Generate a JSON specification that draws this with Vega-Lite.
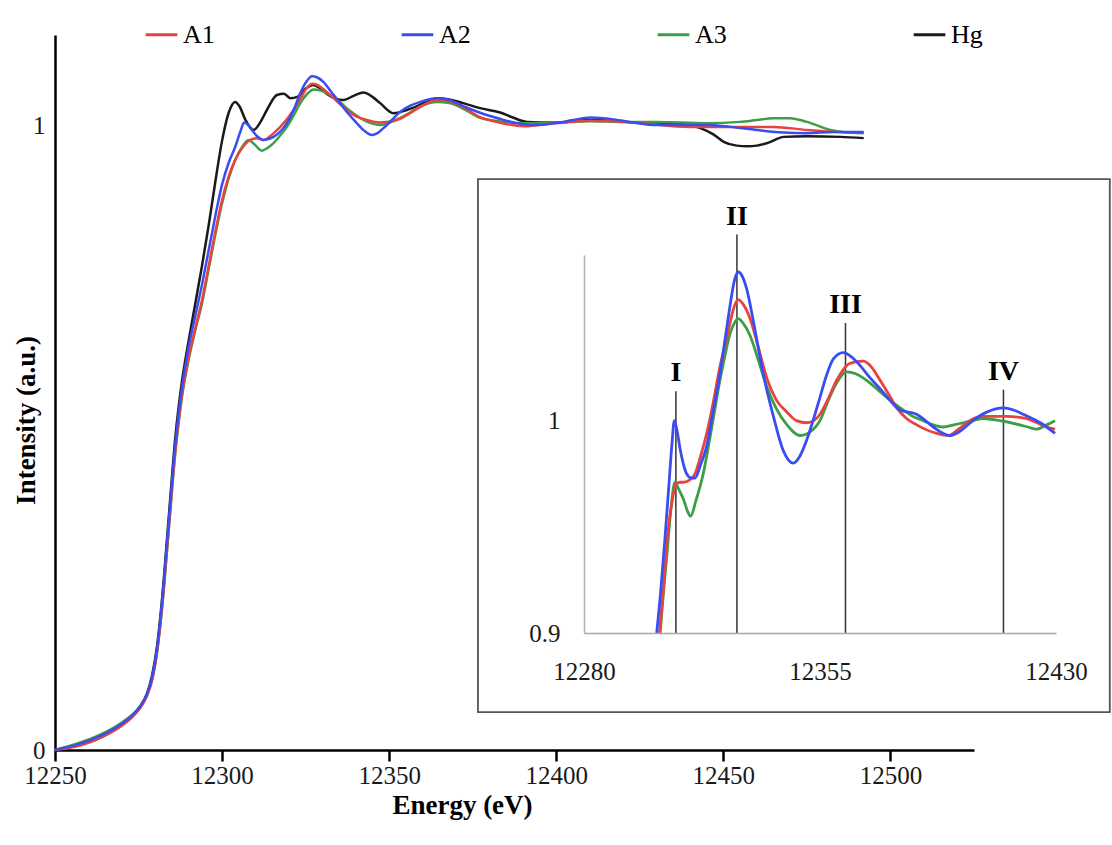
{
  "$schema": "https://vega.github.io/schema/vega-lite/v6.json",
  "width": 919,
  "height": 715,
  "autosize": {"type": "none"},
  "padding": {"left": 55, "top": 35, "right": 138, "bottom": 95},
  "background": "white",
  "config": {
    "view": {"stroke": null},
    "font": "Liberation Serif",
    "axis": {"grid": false, "labelFont": "Liberation Serif", "titleFont": "Liberation Serif", "labelColor": "#1a1a1a", "titleColor": "#000"}
  },
  "datasets": {
    "main": [
      {"s":"Hg","E":12250,"v":0.000},{"s":"Hg","E":12254,"v":0.004},{"s":"Hg","E":12258,"v":0.009},{"s":"Hg","E":12262,"v":0.016},{"s":"Hg","E":12266,"v":0.026},{"s":"Hg","E":12270,"v":0.040},{"s":"Hg","E":12273,"v":0.054},{"s":"Hg","E":12275.5,"v":0.070},{"s":"Hg","E":12277.5,"v":0.090},{"s":"Hg","E":12279,"v":0.118},{"s":"Hg","E":12280.5,"v":0.165},{"s":"Hg","E":12282,"v":0.240},{"s":"Hg","E":12284,"v":0.370},{"s":"Hg","E":12286,"v":0.500},{"s":"Hg","E":12288,"v":0.590},{"s":"Hg","E":12290,"v":0.655},{"s":"Hg","E":12292,"v":0.715},{"s":"Hg","E":12294,"v":0.775},{"s":"Hg","E":12296,"v":0.840},{"s":"Hg","E":12298,"v":0.910},{"s":"Hg","E":12300,"v":0.975},{"s":"Hg","E":12302,"v":1.020},{"s":"Hg","E":12303.9,"v":1.037},{"s":"Hg","E":12305.2,"v":1.030},{"s":"Hg","E":12307,"v":1.008},{"s":"Hg","E":12309.4,"v":0.992},{"s":"Hg","E":12311.5,"v":1.005},{"s":"Hg","E":12313.4,"v":1.024},{"s":"Hg","E":12316.4,"v":1.048},{"s":"Hg","E":12318.5,"v":1.050},{"s":"Hg","E":12320.4,"v":1.043},{"s":"Hg","E":12322.5,"v":1.045},{"s":"Hg","E":12325,"v":1.058},{"s":"Hg","E":12327.2,"v":1.064},{"s":"Hg","E":12329,"v":1.060},{"s":"Hg","E":12331.3,"v":1.050},{"s":"Hg","E":12334,"v":1.042},{"s":"Hg","E":12336.3,"v":1.040},{"s":"Hg","E":12339.5,"v":1.047},{"s":"Hg","E":12342.3,"v":1.052},{"s":"Hg","E":12345,"v":1.045},{"s":"Hg","E":12347.3,"v":1.035},{"s":"Hg","E":12351.3,"v":1.019},{"s":"Hg","E":12355.3,"v":1.024},{"s":"Hg","E":12361.3,"v":1.037},{"s":"Hg","E":12364.3,"v":1.043},{"s":"Hg","E":12368,"v":1.041},{"s":"Hg","E":12372.2,"v":1.035},{"s":"Hg","E":12377.2,"v":1.027},{"s":"Hg","E":12383.2,"v":1.020},{"s":"Hg","E":12387,"v":1.012},{"s":"Hg","E":12391.2,"v":1.005},{"s":"Hg","E":12400.2,"v":1.004},{"s":"Hg","E":12410.2,"v":1.008},{"s":"Hg","E":12420.2,"v":1.005},{"s":"Hg","E":12435.1,"v":1.003},{"s":"Hg","E":12443.1,"v":0.995},{"s":"Hg","E":12447,"v":0.985},{"s":"Hg","E":12450.1,"v":0.973},{"s":"Hg","E":12454,"v":0.967},{"s":"Hg","E":12457.1,"v":0.966},{"s":"Hg","E":12460,"v":0.967},{"s":"Hg","E":12463.1,"v":0.971},{"s":"Hg","E":12468.1,"v":0.981},{"s":"Hg","E":12475.1,"v":0.982},{"s":"Hg","E":12485,"v":0.981},{"s":"Hg","E":12492,"v":0.979},

      {"s":"A3","E":12250,"v":0.000},{"s":"A3","E":12254,"v":0.006},{"s":"A3","E":12258,"v":0.013},{"s":"A3","E":12262,"v":0.021},{"s":"A3","E":12266,"v":0.031},{"s":"A3","E":12270,"v":0.044},{"s":"A3","E":12273,"v":0.056},{"s":"A3","E":12275.5,"v":0.070},{"s":"A3","E":12277.5,"v":0.088},{"s":"A3","E":12279,"v":0.112},{"s":"A3","E":12280.5,"v":0.155},{"s":"A3","E":12282,"v":0.225},{"s":"A3","E":12284,"v":0.350},{"s":"A3","E":12286,"v":0.475},{"s":"A3","E":12288,"v":0.565},{"s":"A3","E":12290,"v":0.625},{"s":"A3","E":12292,"v":0.672},{"s":"A3","E":12294,"v":0.715},{"s":"A3","E":12296,"v":0.770},{"s":"A3","E":12298,"v":0.825},{"s":"A3","E":12300,"v":0.875},{"s":"A3","E":12302,"v":0.915},{"s":"A3","E":12304,"v":0.945},{"s":"A3","E":12306,"v":0.965},{"s":"A3","E":12307.9,"v":0.976},{"s":"A3","E":12309.5,"v":0.970},{"s":"A3","E":12311.9,"v":0.959},{"s":"A3","E":12313.5,"v":0.963},{"s":"A3","E":12315.4,"v":0.971},{"s":"A3","E":12317.5,"v":0.984},{"s":"A3","E":12319.4,"v":0.997},{"s":"A3","E":12321.5,"v":1.016},{"s":"A3","E":12323.4,"v":1.035},{"s":"A3","E":12325.5,"v":1.050},{"s":"A3","E":12327.4,"v":1.057},{"s":"A3","E":12329.5,"v":1.055},{"s":"A3","E":12332.3,"v":1.048},{"s":"A3","E":12335,"v":1.038},{"s":"A3","E":12337.3,"v":1.027},{"s":"A3","E":12340,"v":1.016},{"s":"A3","E":12342.3,"v":1.008},{"s":"A3","E":12347.3,"v":1.000},{"s":"A3","E":12352,"v":1.008},{"s":"A3","E":12356,"v":1.019},{"s":"A3","E":12359,"v":1.029},{"s":"A3","E":12364.3,"v":1.037},{"s":"A3","E":12368,"v":1.035},{"s":"A3","E":12372.2,"v":1.026},{"s":"A3","E":12377,"v":1.012},{"s":"A3","E":12383,"v":1.006},{"s":"A3","E":12391,"v":1.003},{"s":"A3","E":12400,"v":1.004},{"s":"A3","E":12410,"v":1.006},{"s":"A3","E":12420,"v":1.005},{"s":"A3","E":12430,"v":1.005},{"s":"A3","E":12445,"v":1.003},{"s":"A3","E":12455,"v":1.005},{"s":"A3","E":12460,"v":1.008},{"s":"A3","E":12465,"v":1.011},{"s":"A3","E":12470,"v":1.011},{"s":"A3","E":12475,"v":1.005},{"s":"A3","E":12482,"v":0.992},{"s":"A3","E":12487,"v":0.988},{"s":"A3","E":12492,"v":0.987},

      {"s":"A1","E":12250,"v":0.000},{"s":"A1","E":12254,"v":0.003},{"s":"A1","E":12258,"v":0.008},{"s":"A1","E":12262,"v":0.016},{"s":"A1","E":12266,"v":0.026},{"s":"A1","E":12270,"v":0.039},{"s":"A1","E":12273,"v":0.052},{"s":"A1","E":12275.5,"v":0.067},{"s":"A1","E":12277.5,"v":0.086},{"s":"A1","E":12279,"v":0.110},{"s":"A1","E":12280.5,"v":0.155},{"s":"A1","E":12282,"v":0.226},{"s":"A1","E":12284,"v":0.352},{"s":"A1","E":12286,"v":0.478},{"s":"A1","E":12288,"v":0.568},{"s":"A1","E":12290,"v":0.628},{"s":"A1","E":12292,"v":0.675},{"s":"A1","E":12294,"v":0.720},{"s":"A1","E":12296,"v":0.775},{"s":"A1","E":12298,"v":0.830},{"s":"A1","E":12300,"v":0.880},{"s":"A1","E":12302,"v":0.918},{"s":"A1","E":12304,"v":0.945},{"s":"A1","E":12306,"v":0.963},{"s":"A1","E":12308,"v":0.975},{"s":"A1","E":12310.4,"v":0.979},{"s":"A1","E":12312.4,"v":0.976},{"s":"A1","E":12315,"v":0.985},{"s":"A1","E":12317.4,"v":0.997},{"s":"A1","E":12319.5,"v":1.010},{"s":"A1","E":12321.4,"v":1.024},{"s":"A1","E":12323.5,"v":1.043},{"s":"A1","E":12325.5,"v":1.060},{"s":"A1","E":12326.9,"v":1.066},{"s":"A1","E":12328.5,"v":1.064},{"s":"A1","E":12331.3,"v":1.053},{"s":"A1","E":12334,"v":1.040},{"s":"A1","E":12337.3,"v":1.024},{"s":"A1","E":12340,"v":1.014},{"s":"A1","E":12343.3,"v":1.008},{"s":"A1","E":12347.3,"v":1.004},{"s":"A1","E":12352.3,"v":1.008},{"s":"A1","E":12356,"v":1.018},{"s":"A1","E":12359.3,"v":1.029},{"s":"A1","E":12364.3,"v":1.040},{"s":"A1","E":12368,"v":1.038},{"s":"A1","E":12372.2,"v":1.028},{"s":"A1","E":12377,"v":1.013},{"s":"A1","E":12383,"v":1.004},{"s":"A1","E":12390.2,"v":0.998},{"s":"A1","E":12395,"v":1.000},{"s":"A1","E":12400.2,"v":1.003},{"s":"A1","E":12410,"v":1.007},{"s":"A1","E":12417,"v":1.006},{"s":"A1","E":12425.1,"v":1.003},{"s":"A1","E":12440.1,"v":0.997},{"s":"A1","E":12455.1,"v":0.997},{"s":"A1","E":12465,"v":0.997},{"s":"A1","E":12475,"v":0.992},{"s":"A1","E":12483,"v":0.989},{"s":"A1","E":12492,"v":0.987},

      {"s":"A2","E":12250,"v":0.000},{"s":"A2","E":12254,"v":0.005},{"s":"A2","E":12258,"v":0.011},{"s":"A2","E":12262,"v":0.019},{"s":"A2","E":12266,"v":0.029},{"s":"A2","E":12270,"v":0.042},{"s":"A2","E":12273,"v":0.055},{"s":"A2","E":12275.5,"v":0.070},{"s":"A2","E":12277.5,"v":0.089},{"s":"A2","E":12279,"v":0.115},{"s":"A2","E":12280.5,"v":0.160},{"s":"A2","E":12282,"v":0.234},{"s":"A2","E":12284,"v":0.362},{"s":"A2","E":12286,"v":0.490},{"s":"A2","E":12288,"v":0.580},{"s":"A2","E":12290,"v":0.645},{"s":"A2","E":12292,"v":0.695},{"s":"A2","E":12294,"v":0.745},{"s":"A2","E":12296,"v":0.800},{"s":"A2","E":12298,"v":0.855},{"s":"A2","E":12300,"v":0.905},{"s":"A2","E":12302,"v":0.940},{"s":"A2","E":12304,"v":0.966},{"s":"A2","E":12305.5,"v":0.990},{"s":"A2","E":12306.6,"v":1.004},{"s":"A2","E":12307.8,"v":1.000},{"s":"A2","E":12308.9,"v":0.992},{"s":"A2","E":12310.5,"v":0.982},{"s":"A2","E":12312.4,"v":0.976},{"s":"A2","E":12315.4,"v":0.981},{"s":"A2","E":12317.5,"v":0.990},{"s":"A2","E":12319.4,"v":1.003},{"s":"A2","E":12321.5,"v":1.025},{"s":"A2","E":12323.4,"v":1.051},{"s":"A2","E":12325.3,"v":1.070},{"s":"A2","E":12326.9,"v":1.078},{"s":"A2","E":12328.5,"v":1.076},{"s":"A2","E":12330.3,"v":1.069},{"s":"A2","E":12332.8,"v":1.052},{"s":"A2","E":12335.3,"v":1.035},{"s":"A2","E":12337.8,"v":1.018},{"s":"A2","E":12340.3,"v":1.003},{"s":"A2","E":12342.5,"v":0.991},{"s":"A2","E":12344.8,"v":0.984},{"s":"A2","E":12346.5,"v":0.987},{"s":"A2","E":12348.3,"v":0.995},{"s":"A2","E":12350.8,"v":1.008},{"s":"A2","E":12353.3,"v":1.021},{"s":"A2","E":12356.3,"v":1.031},{"s":"A2","E":12359.3,"v":1.037},{"s":"A2","E":12364.3,"v":1.043},{"s":"A2","E":12368,"v":1.040},{"s":"A2","E":12372.2,"v":1.030},{"s":"A2","E":12377,"v":1.020},{"s":"A2","E":12383,"v":1.010},{"s":"A2","E":12388,"v":1.003},{"s":"A2","E":12392.2,"v":1.000},{"s":"A2","E":12400,"v":1.003},{"s":"A2","E":12405,"v":1.008},{"s":"A2","E":12410.2,"v":1.012},{"s":"A2","E":12417.2,"v":1.009},{"s":"A2","E":12423,"v":1.004},{"s":"A2","E":12430.1,"v":1.000},{"s":"A2","E":12445.1,"v":1.000},{"s":"A2","E":12452,"v":0.997},{"s":"A2","E":12460.1,"v":0.992},{"s":"A2","E":12468,"v":0.988},{"s":"A2","E":12475,"v":0.987},{"s":"A2","E":12483,"v":0.989},{"s":"A2","E":12492,"v":0.989}
    ],
    "inset": [
      {"s":"A3","E":12304.2,"v":0.900},{"s":"A3","E":12305.3,"v":0.920},{"s":"A3","E":12306.3,"v":0.936},{"s":"A3","E":12307.6,"v":0.958},{"s":"A3","E":12308.9,"v":0.971},{"s":"A3","E":12310,"v":0.968},{"s":"A3","E":12311.6,"v":0.963},{"s":"A3","E":12313,"v":0.957},{"s":"A3","E":12313.9,"v":0.955},{"s":"A3","E":12315.5,"v":0.962},{"s":"A3","E":12317.9,"v":0.975},{"s":"A3","E":12320.5,"v":0.996},{"s":"A3","E":12323.2,"v":1.019},{"s":"A3","E":12325,"v":1.032},{"s":"A3","E":12326.4,"v":1.041},{"s":"A3","E":12327.8,"v":1.046},{"s":"A3","E":12329,"v":1.048},{"s":"A3","E":12330.5,"v":1.046},{"s":"A3","E":12332.8,"v":1.040},{"s":"A3","E":12335.5,"v":1.028},{"s":"A3","E":12338.1,"v":1.016},{"s":"A3","E":12341,"v":1.006},{"s":"A3","E":12344.5,"v":0.998},{"s":"A3","E":12348.7,"v":0.993},{"s":"A3","E":12352.9,"v":0.996},{"s":"A3","E":12355,"v":1.000},{"s":"A3","E":12357.5,"v":1.009},{"s":"A3","E":12360,"v":1.017},{"s":"A3","E":12363.4,"v":1.023},{"s":"A3","E":12366.5,"v":1.022},{"s":"A3","E":12369.8,"v":1.019},{"s":"A3","E":12373,"v":1.015},{"s":"A3","E":12376.1,"v":1.011},{"s":"A3","E":12381.5,"v":1.005},{"s":"A3","E":12384.5,"v":1.002},{"s":"A3","E":12387.8,"v":1.000},{"s":"A3","E":12391,"v":0.998},{"s":"A3","E":12394.2,"v":0.997},{"s":"A3","E":12397.5,"v":0.998},{"s":"A3","E":12400.5,"v":0.999},{"s":"A3","E":12406.9,"v":1.001},{"s":"A3","E":12412.2,"v":1.000},{"s":"A3","E":12418.5,"v":0.998},{"s":"A3","E":12421,"v":0.997},{"s":"A3","E":12423.8,"v":0.996},{"s":"A3","E":12427,"v":0.998},{"s":"A3","E":12429.7,"v":1.000},

      {"s":"A1","E":12304,"v":0.900},{"s":"A1","E":12305.2,"v":0.920},{"s":"A1","E":12306.5,"v":0.945},{"s":"A1","E":12308,"v":0.962},{"s":"A1","E":12309.2,"v":0.970},{"s":"A1","E":12310.5,"v":0.971},{"s":"A1","E":12311.6,"v":0.971},{"s":"A1","E":12313.5,"v":0.972},{"s":"A1","E":12315.3,"v":0.975},{"s":"A1","E":12317,"v":0.983},{"s":"A1","E":12319,"v":0.994},{"s":"A1","E":12321,"v":1.008},{"s":"A1","E":12323,"v":1.024},{"s":"A1","E":12325,"v":1.037},{"s":"A1","E":12326.4,"v":1.046},{"s":"A1","E":12327.8,"v":1.054},{"s":"A1","E":12329,"v":1.057},{"s":"A1","E":12330.5,"v":1.055},{"s":"A1","E":12332.8,"v":1.048},{"s":"A1","E":12335.5,"v":1.034},{"s":"A1","E":12338.1,"v":1.020},{"s":"A1","E":12341,"v":1.010},{"s":"A1","E":12344.5,"v":1.004},{"s":"A1","E":12347.5,"v":1.000},{"s":"A1","E":12350.8,"v":0.999},{"s":"A1","E":12353,"v":1.000},{"s":"A1","E":12355,"v":1.003},{"s":"A1","E":12357.5,"v":1.010},{"s":"A1","E":12360.3,"v":1.019},{"s":"A1","E":12364.5,"v":1.027},{"s":"A1","E":12368.8,"v":1.028},{"s":"A1","E":12371.5,"v":1.025},{"s":"A1","E":12374.1,"v":1.019},{"s":"A1","E":12377,"v":1.012},{"s":"A1","E":12379.4,"v":1.006},{"s":"A1","E":12382.5,"v":1.001},{"s":"A1","E":12385.7,"v":0.998},{"s":"A1","E":12392.1,"v":0.994},{"s":"A1","E":12396,"v":0.993},{"s":"A1","E":12399,"v":0.996},{"s":"A1","E":12402.7,"v":1.000},{"s":"A1","E":12406,"v":1.002},{"s":"A1","E":12409,"v":1.002},{"s":"A1","E":12414.3,"v":1.002},{"s":"A1","E":12420.7,"v":1.001},{"s":"A1","E":12424,"v":0.999},{"s":"A1","E":12427,"v":0.997},{"s":"A1","E":12429.7,"v":0.996},

      {"s":"A2","E":12303.1,"v":0.900},{"s":"A2","E":12304.4,"v":0.920},{"s":"A2","E":12305.7,"v":0.944},{"s":"A2","E":12307,"v":0.970},{"s":"A2","E":12308,"v":0.990},{"s":"A2","E":12308.7,"v":1.000},{"s":"A2","E":12309.6,"v":0.995},{"s":"A2","E":12310.5,"v":0.987},{"s":"A2","E":12311.5,"v":0.980},{"s":"A2","E":12312.6,"v":0.975},{"s":"A2","E":12314,"v":0.973},{"s":"A2","E":12315.3,"v":0.973},{"s":"A2","E":12317,"v":0.979},{"s":"A2","E":12319,"v":0.988},{"s":"A2","E":12321,"v":1.004},{"s":"A2","E":12323.2,"v":1.022},{"s":"A2","E":12325,"v":1.040},{"s":"A2","E":12326.4,"v":1.054},{"s":"A2","E":12327.8,"v":1.066},{"s":"A2","E":12329,"v":1.070},{"s":"A2","E":12330.3,"v":1.068},{"s":"A2","E":12331.7,"v":1.062},{"s":"A2","E":12333.8,"v":1.047},{"s":"A2","E":12335.9,"v":1.030},{"s":"A2","E":12338,"v":1.015},{"s":"A2","E":12340.2,"v":1.002},{"s":"A2","E":12343.3,"v":0.986},{"s":"A2","E":12346.5,"v":0.980},{"s":"A2","E":12348.5,"v":0.983},{"s":"A2","E":12350.8,"v":0.991},{"s":"A2","E":12353,"v":1.001},{"s":"A2","E":12355,"v":1.011},{"s":"A2","E":12357,"v":1.021},{"s":"A2","E":12359.2,"v":1.029},{"s":"A2","E":12362.4,"v":1.032},{"s":"A2","E":12365,"v":1.030},{"s":"A2","E":12367.7,"v":1.026},{"s":"A2","E":12371,"v":1.020},{"s":"A2","E":12374.1,"v":1.015},{"s":"A2","E":12377,"v":1.010},{"s":"A2","E":12380.4,"v":1.005},{"s":"A2","E":12385.7,"v":1.003},{"s":"A2","E":12388.5,"v":1.000},{"s":"A2","E":12391,"v":0.997},{"s":"A2","E":12396.3,"v":0.993},{"s":"A2","E":12399.5,"v":0.995},{"s":"A2","E":12402.7,"v":0.999},{"s":"A2","E":12408,"v":1.004},{"s":"A2","E":12413.3,"v":1.006},{"s":"A2","E":12416.5,"v":1.005},{"s":"A2","E":12419.6,"v":1.003},{"s":"A2","E":12425,"v":0.999},{"s":"A2","E":12429.7,"v":0.994}
    ],
    "peaks": [
      {"lab":"I","E":12309.2,"v":0.9,"top":1.0138,"ly":1.0225},
      {"lab":"II","E":12328.6,"v":0.9,"top":1.0877,"ly":1.0960},
      {"lab":"III","E":12363.1,"v":0.9,"top":1.0460,"ly":1.0545},
      {"lab":"IV","E":12413.3,"v":0.9,"top":1.0146,"ly":1.0230}
    ],
    "box": [
      {"E":12246.3,"E2":12447.1,"v":1.1137,"v2":0.8627}
    ]
  },
  "layer": [
    {
      "data": {"name": "main"},
      "mark": {"type": "line", "strokeWidth": 2.5, "interpolate": "monotone"},
      "encoding": {
        "x": {
          "field": "E", "type": "quantitative",
          "scale": {"domain": [12250, 12525], "nice": false, "zero": false},
          "axis": {
            "title": "Energy (eV)", "titleFontSize": 27, "titleFontWeight": "bold", "titlePadding": 4,
            "titleX": 407, "titleAlign": "center",
            "values": [12250, 12300, 12350, 12400, 12450, 12500], "format": "d",
            "labelFontSize": 25, "labelFlush": false, "labelOverlap": false, "labelPadding": 2,
            "domainColor": "#000", "domainWidth": 2.5, "tickColor": "#000", "tickWidth": 2.5, "tickSize": 11
          }
        },
        "y": {
          "field": "v", "type": "quantitative",
          "scale": {"domain": [0, 1.144], "nice": false, "zero": false},
          "axis": {
            "title": "Intensity (a.u.)", "titleFontSize": 27, "titleFontWeight": "bold",
            "titleX": -29, "titleY": 385, "titleBaseline": "middle", "titleAlign": "center", "titleAngle": -90,
            "values": [0, 1], "format": "d", "labelFontSize": 25, "labelPadding": 10, "ticks": false,
            "domainColor": "#000", "domainWidth": 2.5
          }
        },
        "color": {
          "field": "s", "type": "nominal",
          "scale": {"domain": ["A1", "A2", "A3", "Hg"], "range": ["#e8433d", "#3a4df0", "#3d9e46", "#1a1a1a"]},
          "legend": {
            "title": null, "orient": "none", "legendX": 89, "legendY": -18, "direction": "horizontal",
            "symbolType": "stroke", "symbolSize": 1000, "symbolStrokeWidth": 3, "labelFont": "Liberation Serif",
            "labelFontSize": 26, "labelColor": "#000", "labelOffset": 4, "columnPadding": 180
          }
        }
      }
    },
    {
      "layer": [
        {
          "data": {"name": "box"},
          "mark": {"type": "rect", "fill": "white", "stroke": "#555", "strokeWidth": 1.8},
          "encoding": {
            "x": {
              "field": "E", "type": "quantitative",
              "scale": {"domain": [12280, 12430], "range": [529, 1001], "nice": false, "zero": false},
              "axis": {
                "title": null, "orient": "bottom", "offset": -117, "zindex": 1, "values": [12280, 12355, 12430], "format": "d",
                "labelFontSize": 25, "labelFlush": false, "labelOverlap": false, "labelPadding": 26, "ticks": false,
                "domainColor": "#a8a8a8", "domainWidth": 1.5
              }
            },
            "x2": {"field": "E2"},
            "y": {
              "field": "v", "type": "quantitative",
              "scale": {"domain": [0.9, 1.078], "range": [598, 220], "nice": false, "zero": false},
              "axis": {
                "title": null, "orient": "left", "offset": -529, "zindex": 1, "values": [0.9, 1], "labelFontSize": 25,
                "labelPadding": 24, "ticks": false, "domainColor": "#b0b0b0", "domainWidth": 1.5,
                "labelExpr": "datum.value == 1 ? '1' : format(datum.value, '.1f')"
              }
            },
            "y2": {"field": "v2"}
          }
        },
        {
          "data": {"name": "peaks"},
          "mark": {"type": "rule", "color": "#333", "strokeWidth": 1.5},
          "encoding": {
            "x": {"field": "E", "type": "quantitative", "title": null},
            "y": {"field": "v", "type": "quantitative", "title": null},
            "y2": {"field": "top"}
          }
        },
        {
          "data": {"name": "inset"},
          "mark": {"type": "line", "strokeWidth": 2.8, "interpolate": "monotone"},
          "encoding": {
            "x": {"field": "E", "type": "quantitative", "title": null},
            "y": {"field": "v", "type": "quantitative", "title": null},
            "color": {"field": "s", "type": "nominal"}
          }
        },
        {
          "data": {"name": "peaks"},
          "mark": {"type": "text", "font": "Liberation Serif", "fontWeight": "bold", "fontSize": 28, "baseline": "middle", "align": "center", "color": "#000"},
          "encoding": {
            "x": {"field": "E", "type": "quantitative", "title": null},
            "y": {"field": "ly", "type": "quantitative", "title": null},
            "text": {"field": "lab"}
          }
        }
      ]
    }
  ],
  "resolve": {"scale": {"x": "independent", "y": "independent"}}
}
